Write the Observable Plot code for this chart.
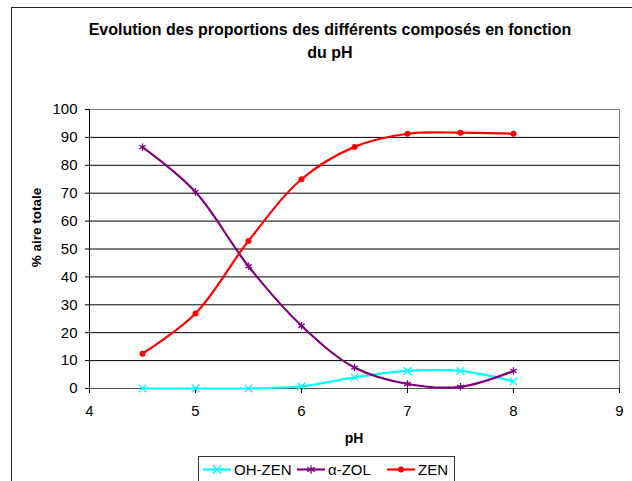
<!DOCTYPE html>
<html>
<head>
<meta charset="utf-8">
<script src="https://cdn.jsdelivr.net/npm/d3@7"></script>
<script src="https://cdn.jsdelivr.net/npm/@observablehq/plot@0.6"></script>
<style>
  html, body { margin: 0; padding: 0; background: #fff; }
  #wrap { position: relative; width: 632px; height: 481px; overflow: hidden; background: #fff; }
  #border { position: absolute; left: 11px; top: 7px; width: 700px; height: 600px; border: 1px solid #222; }
  #chart { position: absolute; left: 0; top: 0; }
  #overlay { position: absolute; left: 0; top: 0; pointer-events: none; }
  text { font-family: "Liberation Sans", Arial, sans-serif; }
</style>
</head>
<body>
<div id="wrap">
  <div id="border"></div>
  <div id="chart"></div>
  <svg id="overlay" width="632" height="481"></svg>
</div>
<script>
// ---- data ----
const titleLines = ["Evolution des proportions des différents composés en fonction", "du pH"];
const xLabel = "pH";
const yLabel = "% aire totale";
const pH = [4.5, 5, 5.5, 6, 6.5, 7, 7.5, 8];
const ohZen = [0, 0, 0, 0.8, 4.0, 6.3, 6.3, 2.5];
const aZol = [86.5, 70.4, 43.8, 22.5, 7.5, 1.6, 0.6, 6.3];
const zen = [12.5, 26.9, 52.9, 75.0, 86.6, 91.3, 91.7, 91.3];
const seriesNames = ["OH-ZEN", "α-ZOL", "ZEN"];
const seriesColors = ["#00FFFF", "#800080", "#FF0000"];
const seriesSymbols = ["times", "asterisk", "circle"];
const xTicks = [4, 5, 6, 7, 8, 9];
const yTicks = [0, 10, 20, 30, 40, 50, 60, 70, 80, 90, 100];
const gridValues = [10, 20, 30, 40, 50, 60, 70, 80, 90];

// ---- table ----
const seriesValues = [ohZen, aZol, zen];
const rows = [];
seriesNames.forEach((name, i) => {
  pH.forEach((x, j) => rows.push({series: name, pH: x, value: seriesValues[i][j]}));
});

const chart = Plot.plot({
  width: 632,
  height: 481,
  marginLeft: 89,
  marginRight: 13,
  marginTop: 109,
  marginBottom: 93,
  style: {fontFamily: "Liberation Sans, Arial, sans-serif", fontSize: "15px", color: "#000", background: "transparent", overflow: "visible"},
  x: {domain: [4, 9]},
  y: {domain: [0, 100]},
  color: {domain: seriesNames, range: seriesColors},
  symbol: {domain: seriesNames, range: seriesSymbols},
  marks: [
    Plot.ruleY(gridValues, {stroke: "#000", strokeWidth: 1}),
    Plot.frame({stroke: "#808080"}),
    Plot.ruleY([0], {stroke: "#555"}),
    Plot.ruleX([4], {stroke: "#000"}),
    Plot.axisY({ticks: yTicks, tickFormat: d => String(d), tickSize: 4, tickPadding: 8, label: null, fontSize: 15, stroke: "#000"}),
    Plot.axisX({ticks: xTicks, tickFormat: d => String(d), tickSize: 5, tickPadding: 12, label: null, fontSize: 15, stroke: "#000"}),
    Plot.line(rows, {x: "pH", y: "value", z: "series", stroke: "series", strokeWidth: 2.2, curve: "catmull-rom"}),
    Plot.dot(rows.filter(d => d.series !== "ZEN"), {x: "pH", y: "value", symbol: "series", stroke: "series", r: 3.5, strokeWidth: 1.3}),
    Plot.dot(rows.filter(d => d.series === "ZEN"), {x: "pH", y: "value", fill: "series", r: 3})
  ]
});
document.getElementById("chart").appendChild(chart);

// ---- overlay texts & legend ----
const ov = d3.select("#overlay");
ov.append("text").attr("x", 330).attr("y", 35.3).attr("text-anchor", "middle")
  .attr("font-weight", "bold").attr("font-size", 16).text(titleLines[0]);
ov.append("text").attr("x", 330).attr("y", 58).attr("text-anchor", "middle")
  .attr("font-weight", "bold").attr("font-size", 16).text(titleLines[1]);
ov.append("text").attr("transform", "translate(41,227.5) rotate(-90)").attr("text-anchor", "middle")
  .attr("font-weight", "bold").attr("font-size", 13.5).text(yLabel);
ov.append("text").attr("x", 354).attr("y", 443).attr("text-anchor", "middle")
  .attr("font-weight", "bold").attr("font-size", 14).text(xLabel);

ov.append("rect").attr("x", 198.5).attr("y", 456.5).attr("width", 256).attr("height", 40)
  .attr("fill", "#fff").attr("stroke", "#333");
const legX = [203, 297, 387];
const legSyms = [d3.symbolTimes, d3.symbolAsterisk, d3.symbolCircle];
seriesNames.forEach((name, i) => {
  const x0 = legX[i];
  ov.append("line").attr("x1", x0).attr("x2", x0 + 28).attr("y1", 469.5).attr("y2", 469.5)
    .attr("stroke", seriesColors[i]).attr("stroke-width", 2.2);
  const s = d3.symbol(legSyms[i], i === 2 ? 28 : 49)();
  const p = ov.append("path").attr("d", s).attr("transform", `translate(${x0 + 14},469.5)`);
  if (i === 2) p.attr("fill", seriesColors[i]);
  else p.attr("fill", "none").attr("stroke", seriesColors[i]).attr("stroke-width", 1.3);
  ov.append("text").attr("x", x0 + 31).attr("y", 474.7).attr("font-size", 15).text(name);
});
</script>
</body>
</html>
